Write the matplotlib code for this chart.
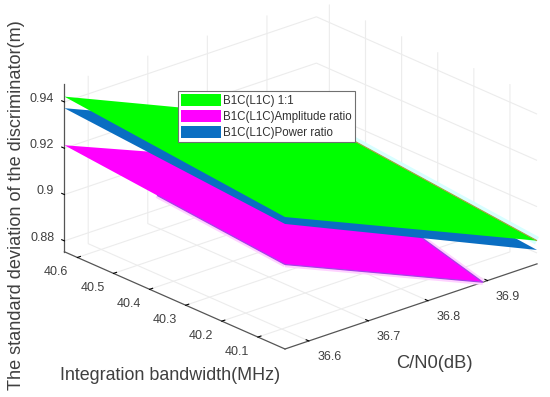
"""
Discriminator standard deviation surfaces over C/N0 and integration bandwidth
"""

import numpy as np
import matplotlib
matplotlib.use("Agg")
import matplotlib.pyplot as plt
from matplotlib.patches import Patch
from mpl_toolkits.mplot3d import proj3d
from mpl_toolkits.mplot3d.art3d import Poly3DCollection

plt.rcParams['font.family'] = ['Liberation Sans', 'DejaVu Sans']

cn0_lim = [36.56, 36.983]
bw_lim = [40.025, 40.636]
std_lim = [0.8753, 0.9478]

cn0_ticks = [36.6, 36.7, 36.8, 36.9]
bw_ticks = [40.1, 40.2, 40.3, 40.4, 40.5, 40.6]
std_ticks = [0.88, 0.9, 0.92, 0.94]
std_labels = ['0.88', '0.9', '0.92', '0.94']

# corner values: rows are bandwidth (low, high), columns are C/N0 (low, high)
std_equal = [[0.9323, 0.8853], [0.9423, 0.8953]]
std_amplitude = [[0.9118, 0.8653], [0.9213, 0.8763]]
std_power = [[0.9293, 0.8813], [0.9373, 0.8913]]

names = ['B1C(L1C) 1:1', 'B1C(L1C)Amplitude ratio', 'B1C(L1C)Power ratio']
colors = ['#00ff00', '#ff00ff', '#0a6ec2']

TEXT = '#404040'
W, H = 550, 397


def surface_poly(z):
    # corners in walking order, cut off at the floor like the original axes do
    pts = [(cn0_lim[0], bw_lim[0], z[0][0]), (cn0_lim[1], bw_lim[0], z[0][1]),
           (cn0_lim[1], bw_lim[1], z[1][1]), (cn0_lim[0], bw_lim[1], z[1][0])]
    out = []
    for i, p in enumerate(pts):
        q = pts[(i + 1) % 4]
        if p[2] >= std_lim[0]:
            out.append(p)
        if (p[2] - std_lim[0]) * (q[2] - std_lim[0]) < 0:
            t = (std_lim[0] - p[2]) / (q[2] - p[2])
            out.append(tuple(np.array(p) + t * (np.array(q) - np.array(p))))
    return out


def to_px(ax, x, y, z):
    ax.apply_aspect()
    X, Y, _ = proj3d.proj_transform(x, y, z, ax.get_proj())
    return ax.transData.transform((X, Y))


def edge(ax, poly, i, j, start=0.0, **kw):
    # line along the polygon side i-j, from fraction start of the side
    p, q = np.array(poly[i]), np.array(poly[j])
    p = p + start * (q - p)
    ax.plot([p[0], q[0]], [p[1], q[1]], [p[2], q[2]], solid_capstyle='butt', **kw)


fig = plt.figure(figsize=(W / 100, H / 100), dpi=100)
ax = fig.add_axes([-0.3, -0.6, 1.6, 2.2], projection='3d', proj_type='ortho',
                  computed_zorder=False)
ax.set_facecolor('none')
ax.view_init(elev=22.7, azim=-131.2)
ax.set_xlim(cn0_lim, view_margin=0)
ax.set_ylim(bw_lim, view_margin=0)
ax.set_zlim(std_lim, view_margin=0)
ax.set_box_aspect((335, 335, 182), zoom=1)

# fit the box to where it sits in the picture
a = to_px(ax, cn0_lim[0], bw_lim[0], std_lim[0])
b = to_px(ax, cn0_lim[1], bw_lim[0], std_lim[0])
ax.set_box_aspect((335, 335, 182), zoom=266 / np.linalg.norm(b - a))
a = to_px(ax, cn0_lim[0], bw_lim[0], std_lim[0])
pos = ax.get_position(original=True)
ax.set_position([pos.x0 + (285 - a[0]) / W, pos.y0 + (H - 349 - a[1]) / H,
                 pos.width, pos.height])

ax.set_xticks(cn0_ticks)
ax.set_yticks(bw_ticks)
ax.set_zticks(std_ticks)
ax.set_zticklabels(std_labels)
ax.tick_params(axis='x', labelsize=9, labelcolor=TEXT, pad=4.5)
ax.tick_params(axis='y', labelsize=9, labelcolor=TEXT, pad=3.5)
ax.tick_params(axis='z', labelsize=9, labelcolor=TEXT, pad=-1)
for lab in ax.xaxis.get_ticklabels():
    lab.set_ha('left')
for lab in ax.yaxis.get_ticklabels():
    lab.set_ha('right')
for lab in ax.zaxis.get_ticklabels():
    lab.set_ha('right')
    lab.set_va('baseline')
# z ticks run along the bandwidth direction in the original
ax.zaxis._get_tickdir = lambda pos: 1

for axis in (ax.xaxis, ax.yaxis, ax.zaxis):
    axis.set_pane_color((1, 1, 1, 0))
    axis.pane.set_edgecolor((1, 1, 1, 0))
    axis.line.set_color('#555555')
    axis.line.set_linewidth(0.9)
    axis._axinfo['grid'].update(color='#ececec', linewidth=0.8)
    axis._axinfo['tick'].update(inward_factor=0, outward_factor=0.15,
                                linewidth={True: 0.8, False: 0.5}, color='#555555')

amp_poly = surface_poly(std_amplitude)
eq_poly = surface_poly(std_equal)

# pale fringe round the magenta and green sheets, as in the compressed original
edge(ax, amp_poly, 0, 1, color='#ffd2ff', lw=4, zorder=1)
edge(ax, amp_poly, 4, 0, start=0.42, color='#ffd2ff', lw=4, zorder=1)
edge(ax, amp_poly, 1, 2, color='#ffd2ff', lw=4, zorder=1)
edge(ax, eq_poly, 1, 2, color='#d8ffff', lw=6, zorder=1)

for i, z in enumerate([std_amplitude, std_power, std_equal]):
    color = [colors[1], colors[2], colors[0]][i]
    poly = Poly3DCollection([surface_poly(z)], facecolors=color, edgecolors='none')
    poly.set_zorder(i + 2)
    ax.add_collection3d(poly)

edge(ax, amp_poly, 0, 1, color='#a83fe6', lw=0.9, zorder=2.5)
edge(ax, amp_poly, 4, 0, start=0.42, color='#a83fe6', lw=0.9, zorder=2.5)
edge(ax, amp_poly, 1, 2, color='#a83fe6', lw=0.9, zorder=2.5)
edge(ax, eq_poly, 1, 2, color='#a8a040', lw=0.8, zorder=5)

handles = [Patch(facecolor=c, edgecolor='none') for c in colors]
leg = fig.legend(handles, names, loc='upper left', bbox_to_anchor=(177.5 / W, 1 - 91 / H),
                 fontsize=8.3, frameon=True, fancybox=False, framealpha=1,
                 edgecolor='#707070', handlelength=3.45, handleheight=1.12,
                 handletextpad=0.18, labelspacing=0.3, borderpad=0.3, borderaxespad=0)
leg.get_frame().set_linewidth(0.8)
for t in leg.get_texts():
    t.set_color('#303030')

fig.text(60 / W, 1 - 375 / H, 'Integration bandwidth(MHz)', fontsize=12.9, color=TEXT,
         ha='left', va='center')
fig.text(396 / W, 1 - 363 / H, 'C/N0(dB)', fontsize=13.2, color=TEXT, ha='left', va='center')
fig.text(17 / W, 1 - 205 / H, 'The standard deviation of the discriminator(m)', fontsize=13.1,
         color=TEXT, rotation=90, ha='center', va='center')

fig.savefig('out.png', dpi=100)
